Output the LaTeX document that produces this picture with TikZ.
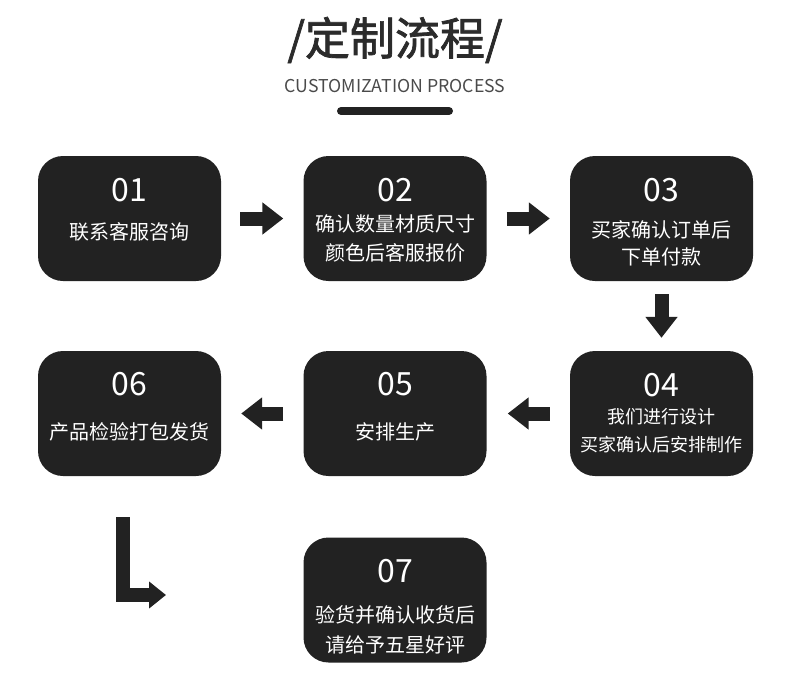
\documentclass[tikz,border=0pt]{standalone}
\usepackage{fontspec}
\setmainfont{Noto Sans CJK SC}
\newfontfamily\titlefont[FakeBold=1.6]{Noto Sans CJK SC}
\usetikzlibrary{arrows.meta}
\definecolor{boxgray}{HTML}{222222}
\definecolor{titlegray}{HTML}{2B2B2B}
\definecolor{subgray}{HTML}{4A4A4A}
\tikzset{
  procbox/.style={rounded corners=25pt,fill=boxgray,minimum width=183pt,minimum height=125pt,inner sep=0pt},
  numtext/.style={text=white,inner sep=0pt,font=\fontsize{32}{36}\selectfont},
  steptext/.style={text=white,inner sep=0pt,align=center,font=\fontsize{20}{29}\selectfont},
  blockarrow/.style={draw=boxgray,line width=14pt,-{Triangle[length=21pt,width=31pt]}}
}
\begin{document}
\begin{tikzpicture}[x=1pt,y=-1pt]
      \useasboundingbox (0,0) rectangle (790,689);

      % title
      \node[text=titlegray,font=\fontsize{45}{48}\titlefont] (title) at (395,40) {/定制流程/};
      \node[text=subgray,font=\fontsize{17.7}{20}\selectfont] (subtitle) at (395,86) {CUSTOMIZATION PROCESS};
      \draw[boxgray,line width=8pt,line cap=round] (341,111) -- (449,111);

      \begin{scope}[every node/.style={procbox}]
        \node (1) at (129.5,218.5) {};
        \node (2) at (395,218.5)   {};
        \node (3) at (661.5,218.5) {};
        \node (4) at (661.5,413.5) {};
        \node (5) at (395,413.5)   {};
        \node (6) at (129.5,413.5) {};
        \node (7) at (395,600)     {};
      \end{scope}

      \begin{scope}[every node/.style={numtext}]
        \node (n1) at (129.5,190) {01};
        \node (n2) at (395,190)   {02};
        \node (n3) at (661.5,190) {03};
        \node (n4) at (661.5,385) {04};
        \node (n5) at (395,384)   {05};
        \node (n6) at (129.5,384) {06};
        \node (n7) at (395,571)   {07};
      \end{scope}

      \node[steptext] (t1) at (129.5,232)   {联系客服咨询};
      \node[steptext] (t2) at (395,238.5)   {确认数量材质尺寸\\颜色后客服报价};
      \node[steptext,font=\fontsize{20}{27}\selectfont] (t3) at (661.5,243.5) {买家确认订单后\\下单付款};
      \node[steptext,font=\fontsize{18}{28}\selectfont] (t4) at (661.5,431) {我们进行设计\\买家确认后安排制作};
      \node[steptext] (t5) at (395,432)     {安排生产};
      \node[steptext] (t6) at (129.5,432)   {产品检验打包发货};
      \node[steptext,font=\fontsize{20}{30}\selectfont] (t7) at (395,630) {验货并确认收货后\\请给予五星好评};

      % arrows between the steps
      \draw[blockarrow] ([xshift=19pt]1.east) -- ([xshift=-20pt]2.west);
      \draw[blockarrow] ([xshift=20pt]2.east) -- ([xshift=-20pt]3.west);
      \draw[blockarrow] ([yshift=-13pt]3.south) -- ([yshift=13pt]4.north);
      \draw[blockarrow] ([xshift=-20pt]4.west) -- ([xshift=21pt]5.east);
      \draw[blockarrow] ([xshift=-20pt]5.west) -- ([xshift=20pt]6.east);
      \coordinate (l7) at (166,595);
      \draw[blockarrow,-{Triangle[length=17pt,width=26pt]}] ([xshift=-6.5pt,yshift=-41pt]6.south) |- (l7);

    \end{tikzpicture}
\end{document}
